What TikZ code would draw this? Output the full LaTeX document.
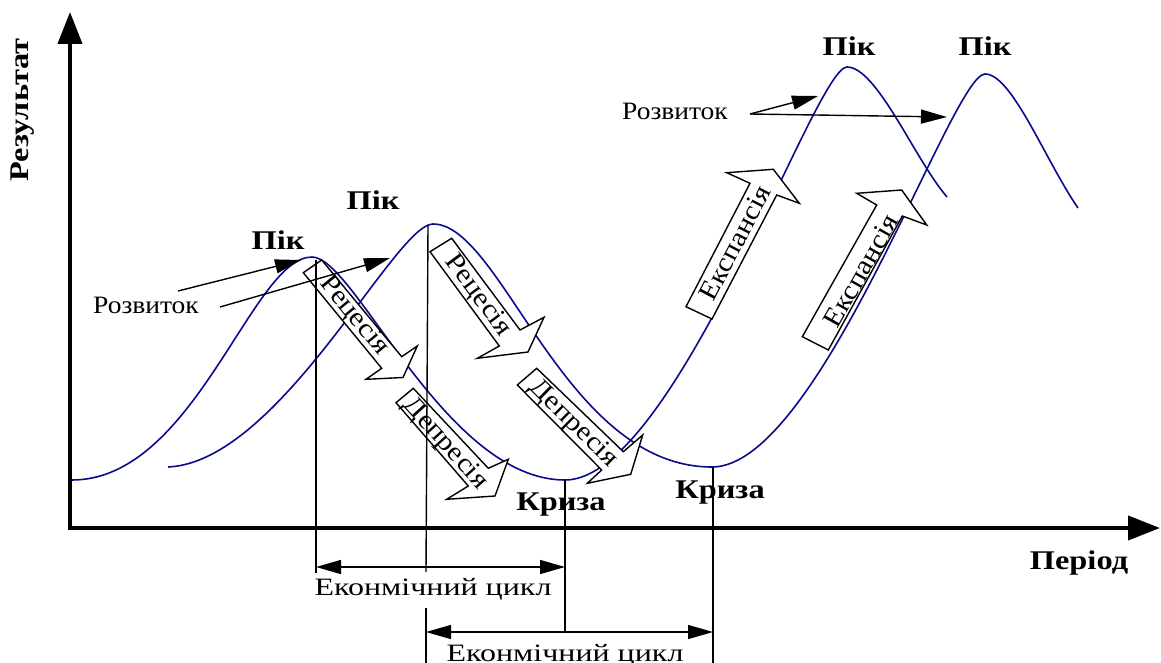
\documentclass[tikz,border=0pt]{standalone}
\usepackage{fontspec}
\setmainfont{Liberation Serif}
\newfontfamily\fontA[FakeStretch=1.1]{Liberation Serif}
\newfontfamily\fontB[FakeStretch=1.2]{Liberation Serif}
\newfontfamily\fontC[FakeStretch=1.28]{Liberation Serif}
\usetikzlibrary{arrows.meta}
\definecolor{wavecol}{RGB}{10,10,140}
\begin{document}
\begin{tikzpicture}[x=1pt,y=-1pt,
  axisline/.style={line width=4pt,-{Triangle[length=32pt,width=24pt]}},
  wave/.style={draw=wavecol,line width=1.6pt},
  guide/.style={line width=1.4pt},
  blockarr/.style={draw=black,fill=white,line width=1.4pt,line join=miter},
  arrtext/.style={font=\fontA\fontsize{27}{27}\selectfont,inner sep=0pt},
  devarrow/.style={line width=1.4pt,-{Triangle[length=26pt,width=14pt]}},
  dimarrow/.style={line width=1.4pt,{Triangle[length=25pt,width=14pt]}-{Triangle[length=25pt,width=14pt]}},
  boldlabel/.style={font=\fontB\bfseries\fontsize{27}{27}\selectfont,inner sep=0pt},
  devlabel/.style={font=\fontA\fontsize{25}{25}\selectfont,inner sep=0pt},
  cyclabel/.style={font=\fontC\fontsize{25}{25}\selectfont,inner sep=0pt}]
\useasboundingbox (0,0) rectangle (1161,663);

% axes
\coordinate (ybot) at (70,530);
\coordinate (ytop) at (70,12);
\coordinate (xlft) at (68,528);
\coordinate (xrgt) at (1160,528);
\draw[axisline] (ybot) -- (ytop);
\draw[axisline] (xlft) -- (xrgt);

% waves
\draw[wave] (72,480) .. controls (195,480) and (252,257) .. (312,257)
  .. controls (355,257) and (445,480) .. (565,480)
  .. controls (675,480) and (815,67) .. (847,67)
  .. controls (877,67) and (915,160) .. (947,197);
\draw[wave] (168,467) .. controls (280,462) and (395,224) .. (433,224)
  .. controls (502,224) and (564,467) .. (712,467)
  .. controls (820,467) and (952,74) .. (985,74)
  .. controls (1012,74) and (1045,160) .. (1078,208);

% block arrows
\draw[blockarr] (303.3,272.7) -- (321.7,260) -- (401.7,356.7) -- (417.3,346)
  -- (403,377.5) -- (366,379.3) -- (381.7,368.3) -- cycle;
\node[arrtext,rotate=-50.5] (rec1) at (354,316) {Рецесія};
\draw[blockarr] (430,251.7) -- (451.7,238.3) -- (520,330) -- (544,317.3)
  -- (528,352) -- (477.3,358.3) -- (499.3,346) -- cycle;
\node[arrtext,rotate=-53.4] (rec2) at (478,296) {Рецесія};
\draw[blockarr] (396,402.7) -- (413.3,388.3) -- (488.3,468.3) -- (508.3,459.3)
  -- (495,496) -- (446.7,499.3) -- (468.3,486) -- cycle;
\node[arrtext,rotate=-48] (dep1) at (445,444) {Депресія};
\draw[blockarr] (517.3,385) -- (536.7,368.3) -- (623.3,451.7) -- (642.7,435)
  -- (630.7,474.3) -- (587.3,483.3) -- (601.7,470) -- cycle;
\node[arrtext,rotate=-44.5] (dep2) at (573,424) {Депресія};
\draw[blockarr] (686,306.7) -- (750,183.3) -- (726.7,172.7) -- (773.3,169.3)
  -- (799.3,203.3) -- (776.7,195) -- (712,319) -- cycle;
\node[arrtext,rotate=62.5] (exp1) at (735,243) {Експансія};
\draw[blockarr] (802.3,336.7) -- (876.7,205) -- (856.7,193.3) -- (901.7,190)
  -- (926.7,225) -- (902.3,216) -- (828.3,350) -- cycle;
\node[arrtext,rotate=60.6] (exp2) at (861,271) {Експансія};

% vertical guide lines
\coordinate (g1t) at (316,260); \coordinate (g1b) at (316,573);
\coordinate (g2t) at (428,225); \coordinate (g2m) at (426,572);
\coordinate (g2n) at (426,608); \coordinate (g2b) at (426,663);
\coordinate (g3t) at (565,480); \coordinate (g3b) at (565,632);
\coordinate (g4t) at (713,467); \coordinate (g4b) at (713,663);
\draw[guide] (g1t) -- (g1b);
\draw[guide] (g2t) -- (g2m);
\draw[guide] (g2n) -- (g2b);
\draw[guide] (g3t) -- (g3b);
\draw[guide] (g4t) -- (g4b);

% development arrows
\node[devlabel] (rozL) at (146,305) {Розвиток};
\node[devlabel] (rozR) at (675,111) {Розвиток};
\coordinate (rL1s) at (178,291); \coordinate (rL1e) at (301,260);
\coordinate (rL2s) at (220,307); \coordinate (rL2e) at (390,258);
\coordinate (rRs) at (750,114);
\coordinate (rR1e) at (818,96); \coordinate (rR2e) at (947,117);
\draw[devarrow] (rL1s) -- (rL1e);
\draw[devarrow] (rL2s) -- (rL2e);
\draw[devarrow] (rRs) -- (rR1e);
\draw[devarrow] (rRs) -- (rR2e);

% cycle dimensions
\coordinate (d1l) at (316,567); \coordinate (d1r) at (565,567);
\coordinate (d2l) at (426,632); \coordinate (d2r) at (713,632);
\draw[dimarrow] (d1l) -- (d1r);
\draw[dimarrow] (d2l) -- (d2r);
\node[cyclabel] (cyc1) at (433,589) {Еконмічний цикл};
\node[cyclabel] (cyc2) at (565,655) {Еконмічний цикл};

% labels
\node[boldlabel] (pik1) at (278,240) {Пік};
\node[boldlabel] (pik2) at (373,200) {Пік};
\node[boldlabel] (pik3) at (849,46) {Пік};
\node[boldlabel] (pik4) at (985,46) {Пік};
\node[boldlabel] (kr1) at (561,505) {Криза};
\node[boldlabel] (kr2) at (720,493) {Криза};
\node[boldlabel] (per) at (1079,563) {Період};
\node[boldlabel,rotate=90] (res) at (23,110) {Результат};
\end{tikzpicture}
\end{document}
